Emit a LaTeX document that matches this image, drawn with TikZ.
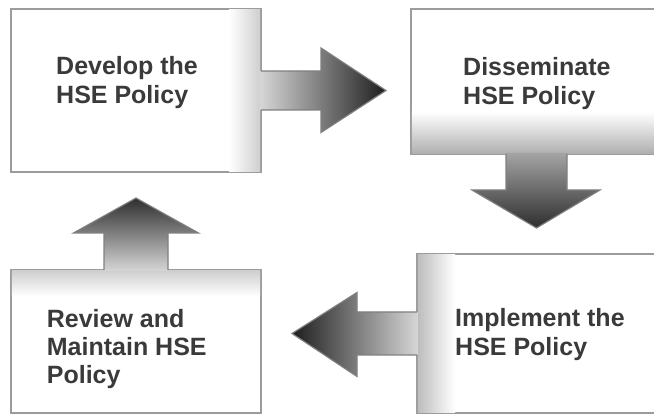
\documentclass[tikz,border=0pt]{standalone}
\usepackage{fontspec}
\setmainfont{Liberation Sans}
\usetikzlibrary{calc}

\definecolor{frame}{HTML}{9C9C9C}
\definecolor{arrowedge}{HTML}{808080}
\definecolor{ink}{HTML}{3A3A3A}
\definecolor{edgegray}{HTML}{CFCFCF}
\definecolor{deepgray}{HTML}{B0B0B0}
\definecolor{sidegray}{HTML}{BDBDBD}
\definecolor{palegray}{HTML}{D6D6D6}
\definecolor{midgray}{HTML}{A4A4A4}
\definecolor{darktip}{HTML}{1E1E1E}
\definecolor{darkhead}{HTML}{2E2E2E}

\begin{document}
\begin{tikzpicture}[x=1pt,y=-1pt,
  stage/.style={draw=frame, line width=1.6pt, fill=white, inner sep=0pt,
                outer sep=0pt, anchor=north west},
  caption/.style={font=\fontsize{25}{28.5}\selectfont\bfseries, text=ink,
                  align=left, inner sep=0pt, anchor=base west},
  arrowline/.style={draw=arrowedge, line width=1.2pt, line join=miter}]

\useasboundingbox (0,0) rectangle (654,414);
\clip (0,0) rectangle (654,414);

% the four stages of the policy cycle
\node[stage, minimum width=250pt, minimum height=163pt] (develop) at (11,9) {};
\node[stage, minimum width=251pt, minimum height=145pt] (dissem)  at (411,9) {};
\node[stage, minimum width=251pt, minimum height=159pt] (impl)    at (417,254) {};
\node[stage, minimum width=250pt, minimum height=143pt] (review)  at (11,270) {};

% soft gradients along the side each arrow leaves from
\shade[left color=white, right color=edgegray]
  ($(develop.north east)+(-32,0.8)$) rectangle ($(develop.south east)+(-0.8,-0.8)$);
\shade[top color=white, bottom color=deepgray]
  ($(dissem.south west)+(0.8,-42)$) rectangle ($(dissem.south east)+(-0.8,-0.8)$);
\shade[left color=sidegray, right color=white]
  ($(impl.north west)+(0.8,0.8)$) rectangle ($(impl.south west)+(38,-0.8)$);
\shade[top color=edgegray, bottom color=white]
  ($(review.north west)+(0.8,0.8)$) rectangle ($(review.north east)+(-0.8,26)$);

% block arrows from stage to stage
\coordinate (a1s) at (develop.east);
\coordinate (a1t) at ($(dissem.west |- develop.east)+(-25,0)$);
\shade[left color=palegray, right color=darktip]
  ($(a1s)+(-1,-19.5)$) -- ($(a1t)+(-65,-19.5)$) -- ($(a1t)+(-65,-42.5)$) --
  (a1t) -- ($(a1t)+(-65,42)$) -- ($(a1t)+(-65,19.5)$) -- ($(a1s)+(-1,19.5)$) -- cycle;
\draw[arrowline]
  ($(a1s)+(0,-19.5)$) -- ($(a1t)+(-65,-19.5)$) -- ($(a1t)+(-65,-42.5)$) --
  (a1t) -- ($(a1t)+(-65,42)$) -- ($(a1t)+(-65,19.5)$) -- ($(a1s)+(0,19.5)$);

\coordinate (a2s) at (dissem.south);
\coordinate (a2t) at ($(impl.north -| dissem.south)+(0,-26)$);
\shade[top color=midgray, bottom color=darkhead]
  ($(a2s)+(-30.5,-1)$) -- ($(a2t)+(-30.5,-38)$) -- ($(a2t)+(-64.5,-38)$) --
  (a2t) -- ($(a2t)+(63.5,-38)$) -- ($(a2t)+(30.5,-38)$) -- ($(a2s)+(30.5,-1)$) -- cycle;
\draw[arrowline]
  ($(a2s)+(-30.5,0)$) -- ($(a2t)+(-30.5,-38)$) -- ($(a2t)+(-64.5,-38)$) --
  (a2t) -- ($(a2t)+(63.5,-38)$) -- ($(a2t)+(30.5,-38)$) -- ($(a2s)+(30.5,0)$);

\coordinate (a3s) at (impl.west);
\coordinate (a3t) at ($(review.east |- impl.west)+(31,0)$);
\shade[right color=palegray, left color=darktip]
  ($(a3s)+(1,-21.5)$) -- ($(a3t)+(65,-21.5)$) -- ($(a3t)+(65,-41)$) --
  (a3t) -- ($(a3t)+(65,43)$) -- ($(a3t)+(65,21.5)$) -- ($(a3s)+(1,21.5)$) -- cycle;
\draw[arrowline]
  ($(a3s)+(0,-21.5)$) -- ($(a3t)+(65,-21.5)$) -- ($(a3t)+(65,-41)$) --
  (a3t) -- ($(a3t)+(65,43)$) -- ($(a3t)+(65,21.5)$) -- ($(a3s)+(0,21.5)$);

\coordinate (a4s) at (review.north);
\coordinate (a4t) at ($(develop.south -| review.north)+(0,26)$);
\shade[bottom color=palegray, top color=darkhead]
  ($(a4s)+(-32,1)$) -- ($(a4t)+(-32,35)$) -- ($(a4t)+(-62.5,35)$) --
  (a4t) -- ($(a4t)+(62.5,35)$) -- ($(a4t)+(32,35)$) -- ($(a4s)+(32,1)$) -- cycle;
\draw[arrowline]
  ($(a4s)+(-32,0)$) -- ($(a4t)+(-32,35)$) -- ($(a4t)+(-62.5,35)$) --
  (a4t) -- ($(a4t)+(62.5,35)$) -- ($(a4t)+(32,35)$) -- ($(a4s)+(32,0)$);

% stage captions (anchored on the baseline of their last line)
\node[caption] (developtext) at ($(develop.north west)+(45,94.5)$)  {Develop the\\HSE Policy};
\node[caption] (dissemtext)  at ($(dissem.north west)+(52,95.5)$)   {Disseminate\\HSE Policy};
\node[caption] (impltext)    at ($(impl.north west)+(38,101.5)$)    {Implement the\\HSE Policy};
\node[caption] (reviewtext)  at ($(review.north west)+(35.7,114)$)  {Review and\\Maintain HSE\\Policy};
\end{tikzpicture}
\end{document}
